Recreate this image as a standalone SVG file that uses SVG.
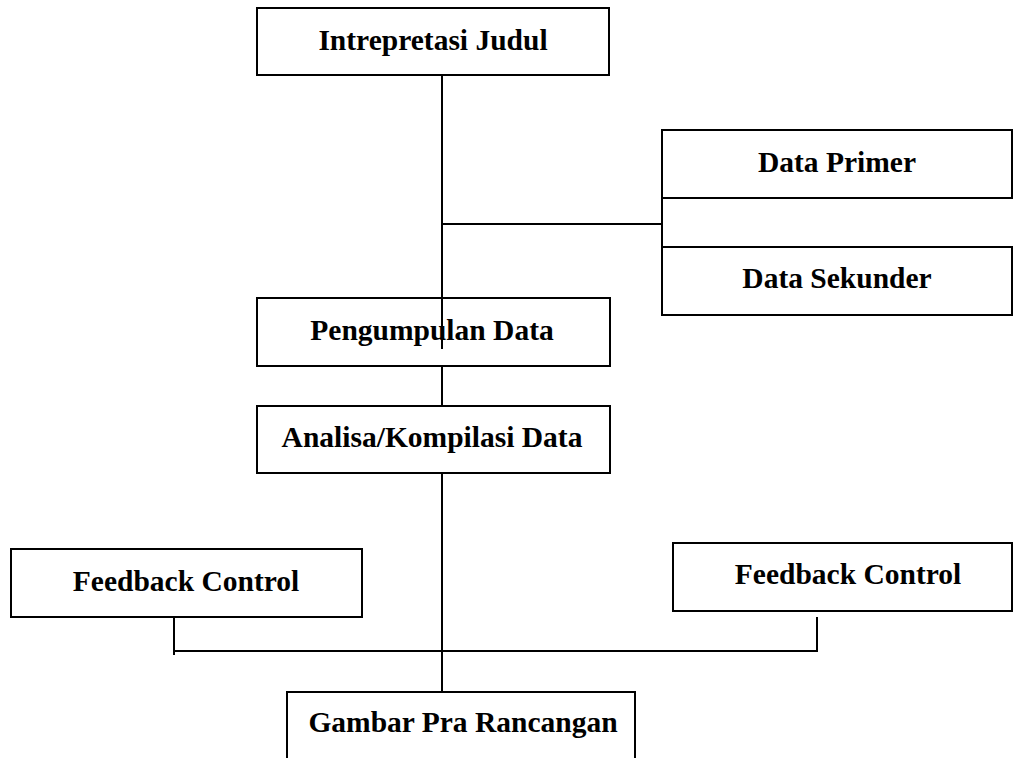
<svg xmlns="http://www.w3.org/2000/svg" width="1016" height="758" viewBox="0 0 1016 758">
  <style>
    .box { fill: #ffffff; stroke: #000000; stroke-width: 2; }
    .lbl { font-family: "Liberation Serif", "Times New Roman", serif; font-weight: bold; font-size: 29.5px; fill: #000000; text-anchor: middle; }
    .wire { fill: none; stroke: #000000; stroke-width: 2; }
  </style>
  <rect x="0" y="0" width="1016" height="758" fill="#ffffff"/>

  <g id="connectors">
    <line class="wire" x1="442" y1="75" x2="442" y2="349"/>
    <line class="wire" x1="442" y1="224" x2="662" y2="224"/>
    <line class="wire" x1="662" y1="198" x2="662" y2="247"/>
    <line class="wire" x1="442" y1="366" x2="442" y2="406"/>
    <line class="wire" x1="442" y1="473" x2="442" y2="692"/>
    <line class="wire" x1="174" y1="617" x2="174" y2="655"/>
    <line class="wire" x1="174" y1="651" x2="818" y2="651"/>
    <line class="wire" x1="817" y1="617" x2="817" y2="651"/>
  </g>

  <g id="intrepretasi-judul">
    <rect class="box" x="257" y="8" width="352" height="67"/>
    <text class="lbl" x="433" y="50">Intrepretasi Judul</text>
  </g>

  <g id="data-primer">
    <rect class="box" x="662" y="130" width="350" height="68"/>
    <text class="lbl" x="837" y="172">Data Primer</text>
  </g>

  <g id="data-sekunder">
    <rect class="box" x="662" y="247" width="350" height="68"/>
    <text class="lbl" x="837" y="288">Data Sekunder</text>
  </g>

  <g id="pengumpulan-data">
    <rect class="box" x="257" y="298" width="353" height="68" style="fill:none"/>
    <text class="lbl" x="432" y="340">Pengumpulan Data</text>
  </g>

  <g id="analisa-kompilasi-data">
    <rect class="box" x="257" y="406" width="353" height="67"/>
    <text class="lbl" x="432" y="447">Analisa/Kompilasi Data</text>
  </g>

  <g id="feedback-control-left">
    <rect class="box" x="11" y="549" width="351" height="68"/>
    <text class="lbl" x="186" y="591">Feedback Control</text>
  </g>

  <g id="feedback-control-right">
    <rect class="box" x="673" y="543" width="339" height="68"/>
    <text class="lbl" x="848" y="584">Feedback Control</text>
  </g>

  <g id="gambar-pra-rancangan">
    <path class="box" d="M287 760 V692 H635 V760"/>
    <text class="lbl" x="463" y="732">Gambar Pra Rancangan</text>
  </g>
</svg>
